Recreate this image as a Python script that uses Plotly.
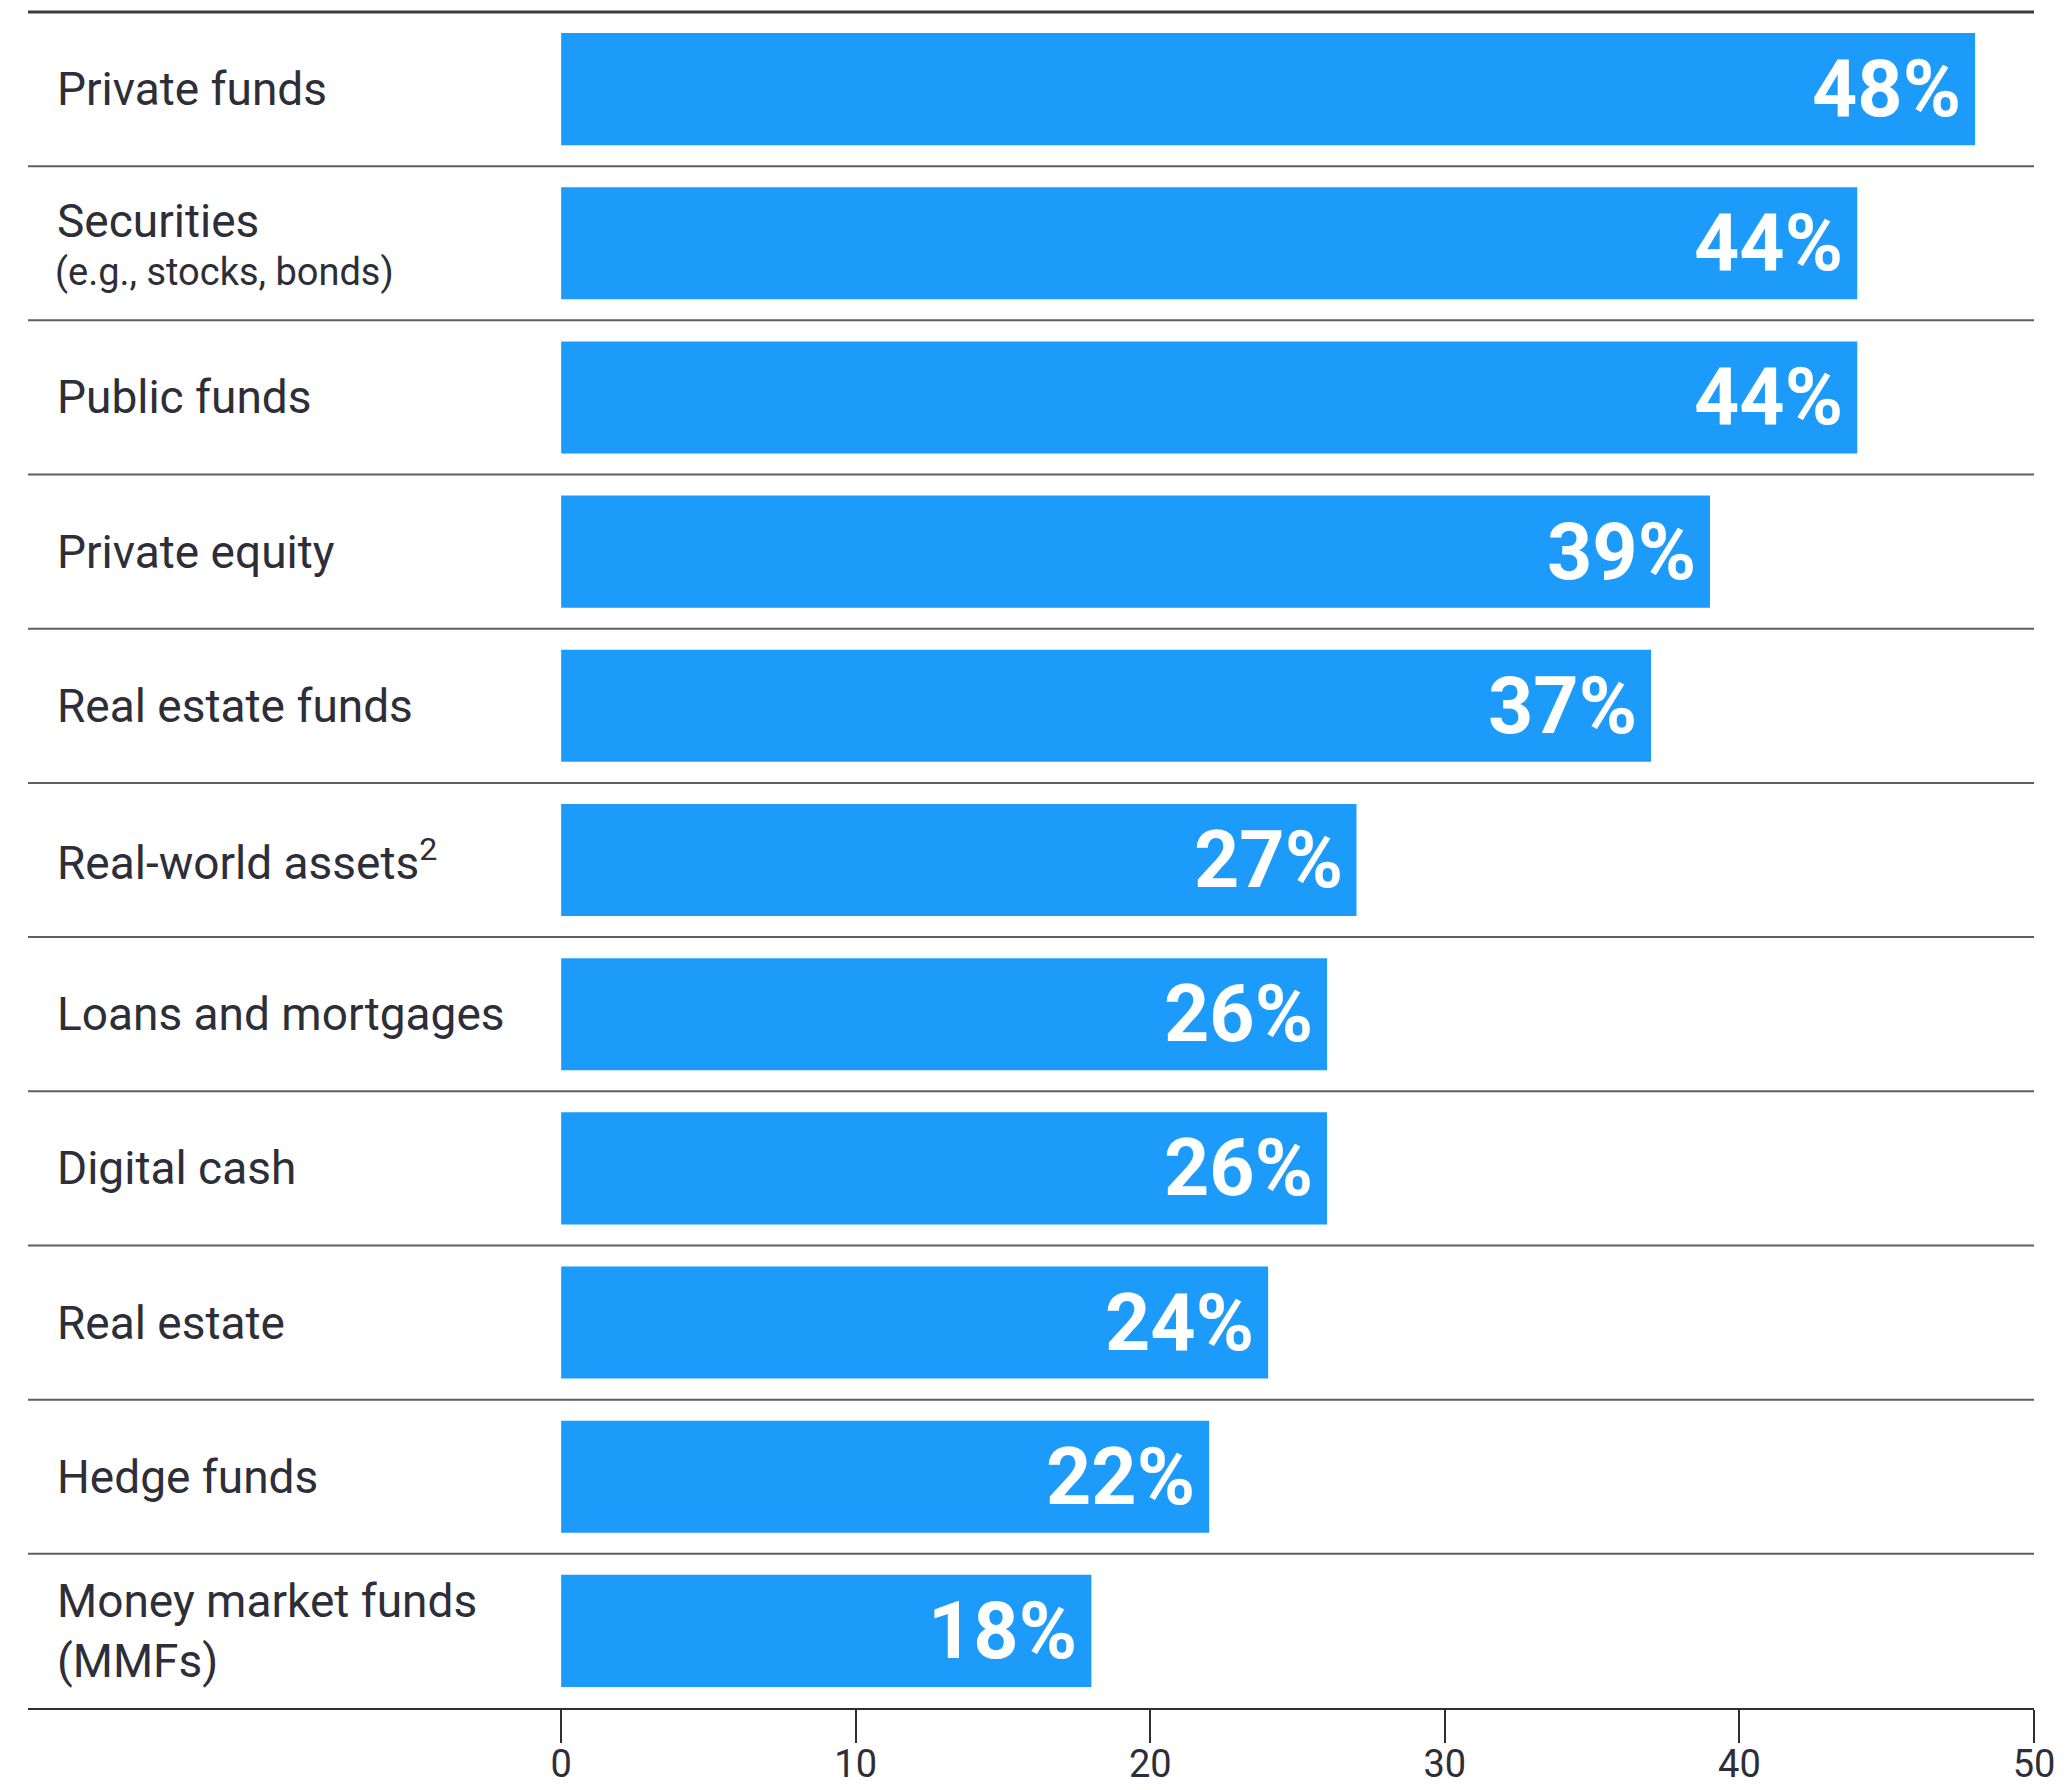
import plotly.graph_objects as go

# Asset classes, top to bottom, with the share of respondents for each
categories = [
    "Private funds",
    "Securities",
    "Public funds",
    "Private equity",
    "Real estate funds",
    "Real-world assets",
    "Loans and mortgages",
    "Digital cash",
    "Real estate",
    "Hedge funds",
    "Money market funds",
]
display_labels = [
    "Private funds",
    "Securities",
    "Public funds",
    "Private equity",
    "Real estate funds",
    "Real-world assets<sup>2</sup>",
    "Loans and mortgages",
    "Digital cash",
    "Real estate",
    "Hedge funds",
    "Money market funds<br>(MMFs)",
]
sublabels = {"Securities": "(e.g., stocks, bonds)"}
values = [48, 44, 44, 39, 37, 27, 26, 26, 24, 22, 18]
x_ticks = [0, 10, 20, 30, 40, 50]

BAR_COLOR = "#1C9BFB"
TEXT_COLOR = "#2E2E38"
RULE_COLOR = "#5E5E66"
FONT = "Roboto"

W, H = 2071, 1790
ML, MR, MT, MB = 28, 37, 12, 82
# left part of the x range leaves room for the row labels inside the plot area
X_MIN = -18.1

fig = go.Figure(
    go.Bar(
        x=values,
        y=categories,
        orientation="h",
        marker=dict(color=BAR_COLOR, line=dict(width=0)),
        width=0.727,
        hoverinfo="skip",
    )
)

annotations = []
for cat, lab, val in zip(categories, display_labels, values):
    # value label, right-aligned inside the bar end
    annotations.append(dict(
        x=val, y=cat, xref="x", yref="y",
        text=f"<b>{val}%</b>", showarrow=False,
        xanchor="right", yanchor="middle", xshift=-12,
        font=dict(family=FONT, size=79, color="white"),
    ))
    if cat in sublabels:
        annotations.append(dict(
            x=0, y=cat, xref="paper", yref="y", text=lab, showarrow=False,
            xanchor="left", yanchor="middle", xshift=27, yshift=22,
            font=dict(family=FONT, size=46, color=TEXT_COLOR),
        ))
        annotations.append(dict(
            x=0, y=cat, xref="paper", yref="y", text=sublabels[cat], showarrow=False,
            xanchor="left", yanchor="middle", xshift=25, yshift=-29,
            font=dict(family=FONT, size=38, color=TEXT_COLOR),
        ))
    else:
        annotations.append(dict(
            x=0, y=cat, xref="paper", yref="y", text=lab, showarrow=False,
            xanchor="left", yanchor="middle", align="left", xshift=27,
            font=dict(family=FONT, size=46, color=TEXT_COLOR),
        ))

shapes = []
# thin rules between rows
for i in range(len(categories) - 1):
    shapes.append(dict(
        type="line", xref="paper", yref="y", x0=0, x1=1, y0=i + 0.5, y1=i + 0.5,
        line=dict(color=RULE_COLOR, width=2),
    ))
# heavier rule across the top
shapes.append(dict(
    type="line", xref="paper", yref="paper", x0=0, x1=1, y0=1, y1=1,
    line=dict(color="#3A3A40", width=3),
))

fig.update_layout(
    width=W, height=H,
    margin=dict(l=ML, r=MR, t=MT, b=MB, autoexpand=False),
    paper_bgcolor="white", plot_bgcolor="white",
    showlegend=False,
    annotations=annotations,
    shapes=shapes,
    xaxis=dict(
        range=[X_MIN, 50],
        tickvals=x_ticks,
        ticktext=[str(t) for t in x_ticks],
        ticks="outside", ticklen=33, tickwidth=1.5, tickcolor=TEXT_COLOR,
        ticklabelstandoff=-12,
        showline=True, linecolor=TEXT_COLOR, linewidth=2,
        showgrid=False, zeroline=False, automargin=False,
        tickfont=dict(family=FONT, size=38, color=TEXT_COLOR),
        fixedrange=True,
    ),
    yaxis=dict(
        type="category",
        categoryorder="array", categoryarray=categories,
        range=[len(categories) - 0.5, -0.5],
        showticklabels=False, ticks="", showgrid=False, zeroline=False,
        showline=False, fixedrange=True, automargin=False,
    ),
)

fig.write_html("out.html", config={"displayModeBar": False})
